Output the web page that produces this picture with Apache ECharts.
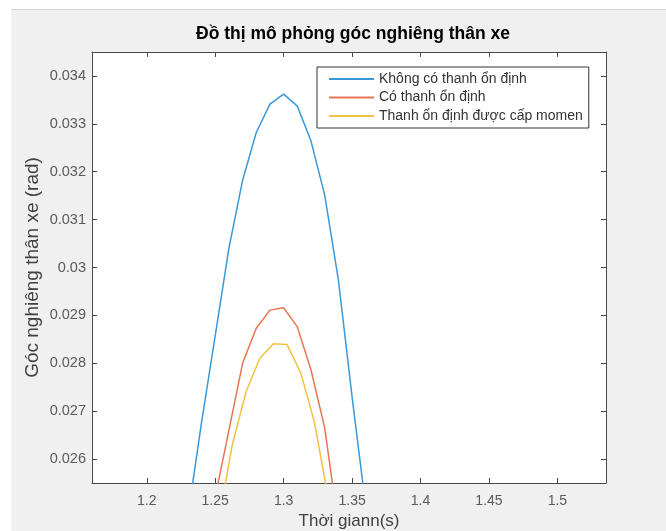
<!DOCTYPE html>
<html>
<head>
<meta charset="utf-8">
<script src="https://cdn.jsdelivr.net/npm/echarts@6/dist/echarts.min.js"></script>
<style>
  html, body { margin: 0; padding: 0; background: #fff; }
  #chart { width: 666px; height: 531px; }
</style>
</head>
<body>
<div id="chart"></div>
<script>
const FONT = '"Liberation Sans", Arial, sans-serif'

const seriesNames = ['Không có thanh ổn định', 'Có thanh ổn định', 'Thanh ổn định được cấp momen']
const seriesColors = ['#3a98d8', '#e57651', '#f0c245']

// time samples (s)
const timeBlue = [1.22, 1.23, 1.24, 1.25, 1.26, 1.27, 1.28, 1.29, 1.30, 1.31, 1.32, 1.33, 1.34, 1.35, 1.36, 1.37]
const timeRed = [1.24, 1.25, 1.26, 1.27, 1.28, 1.29, 1.30, 1.31, 1.32, 1.33, 1.34, 1.35]
const timeYellow = [1.2525, 1.2625, 1.2725, 1.2825, 1.2925, 1.3025, 1.3125, 1.3225, 1.3325, 1.3425]

// roll angle (rad)
const angleNoBar = [0.0226, 0.0248, 0.02676, 0.02857, 0.0304, 0.03182, 0.03282, 0.03341, 0.03362, 0.03337, 0.03264, 0.03151, 0.02974, 0.0273, 0.0250, 0.0225]
const angleBar = [0.0236, 0.0252, 0.0266, 0.0280, 0.02873, 0.02911, 0.02916, 0.02876, 0.02786, 0.02665, 0.0246, 0.0225]
const angleActive = [0.0247, 0.0263, 0.0274, 0.0281, 0.02841, 0.02839, 0.0278, 0.02677, 0.0252, 0.0233]

const xTicks = [1.2, 1.25, 1.3, 1.35, 1.4, 1.45, 1.5]
const yTicks = [0.026, 0.027, 0.028, 0.029, 0.03, 0.031, 0.032, 0.033, 0.034]

const X_MIN = 1.16
const X_MAX = 1.5355
const Y_MIN = 0.0255
const Y_MAX = 0.0345

const axisColor = '#4a4a4a'

const pairs = (xs, ys) => xs.map((x, i) => [x, ys[i]])

const makeXAxis = (position, showLabel) => ({
  type: 'value',
  position,
  min: X_MIN,
  max: X_MAX,
  axisLine: { show: true, onZero: false, lineStyle: { color: axisColor, width: 1 } },
  axisTick: { show: true, inside: true, length: 5, customValues: xTicks, lineStyle: { color: axisColor } },
  axisLabel: {
    show: showLabel,
    customValues: xTicks,
    margin: 11,
    color: '#5a5a5a',
    fontSize: 14,
    fontFamily: FONT
  },
  splitLine: { show: false }
})

const makeYAxis = (position, showLabel) => ({
  type: 'value',
  position,
  min: Y_MIN,
  max: Y_MAX,
  axisLine: { show: true, onZero: false, lineStyle: { color: axisColor, width: 1 } },
  axisTick: { show: true, inside: true, length: 5, customValues: yTicks, lineStyle: { color: axisColor } },
  axisLabel: {
    show: showLabel,
    customValues: yTicks,
    margin: 6,
    color: '#5a5a5a',
    fontSize: 14.5,
    fontFamily: FONT
  },
  splitLine: { show: false }
})

const lineSeries = (name, color, data) => ({
  name,
  type: 'line',
  data,
  color,
  symbol: 'none',
  clip: true,
  lineStyle: { width: 1.5, color },
  animation: false
})

const chart = echarts.init(document.getElementById('chart'))

const xBottom = makeXAxis('bottom', true)
xBottom.name = 'Thời giann(s)'
xBottom.nameLocation = 'middle'
xBottom.nameGap = 30
xBottom.nameTextStyle = { color: '#404040', fontSize: 17, fontFamily: FONT }

const yLeft = makeYAxis('left', true)
yLeft.name = 'Góc nghiêng thân xe (rad)'
yLeft.nameLocation = 'middle'
yLeft.nameGap = 50
yLeft.nameMoveOverlap = false
yLeft.nameTextStyle = { color: '#404040', fontSize: 19, fontFamily: FONT }

chart.setOption({
  animation: false,
  backgroundColor: '#f0f0f0',
  title: {
    text: 'Đồ thị mô phỏng góc nghiêng thân xe',
    left: 348,
    textAlign: 'center',
    top: 20,
    textStyle: { color: '#000', fontSize: 17.5, fontWeight: 'bold', fontFamily: FONT }
  },
  graphic: [
    { type: 'rect', left: 0, top: 0, shape: { width: 666, height: 9 }, style: { fill: '#fff' }, silent: true },
    { type: 'rect', left: 0, top: 0, shape: { width: 11, height: 531 }, style: { fill: '#fff' }, silent: true },
    { type: 'line', shape: { x1: 11, y1: 9.5, x2: 666, y2: 9.5 }, style: { stroke: '#d6d6d6', lineWidth: 1 }, silent: true }
  ],
  legend: {
    data: seriesNames,
    orient: 'vertical',
    left: 317,
    top: 67,
    padding: [5, 6, 5, 11],
    itemGap: 4.5,
    itemWidth: 45,
    itemHeight: 14,
    itemStyle: { opacity: 0 },
    backgroundColor: '#fff',
    borderColor: '#333',
    borderWidth: 1,
    textStyle: { color: '#333', fontSize: 14, lineHeight: 14, fontFamily: FONT }
  },
  grid: {
    left: 92,
    right: 60,
    top: 52,
    bottom: 48,
    show: true,
    outerBoundsMode: 'none',
    backgroundColor: '#fff',
    borderWidth: 0
  },
  xAxis: [xBottom, makeXAxis('top', false)],
  yAxis: [yLeft, makeYAxis('right', false)],
  series: [
    lineSeries(seriesNames[0], seriesColors[0], pairs(timeBlue, angleNoBar)),
    lineSeries(seriesNames[1], seriesColors[1], pairs(timeRed, angleBar)),
    lineSeries(seriesNames[2], seriesColors[2], pairs(timeYellow, angleActive))
  ]
})
</script>
</body>
</html>
